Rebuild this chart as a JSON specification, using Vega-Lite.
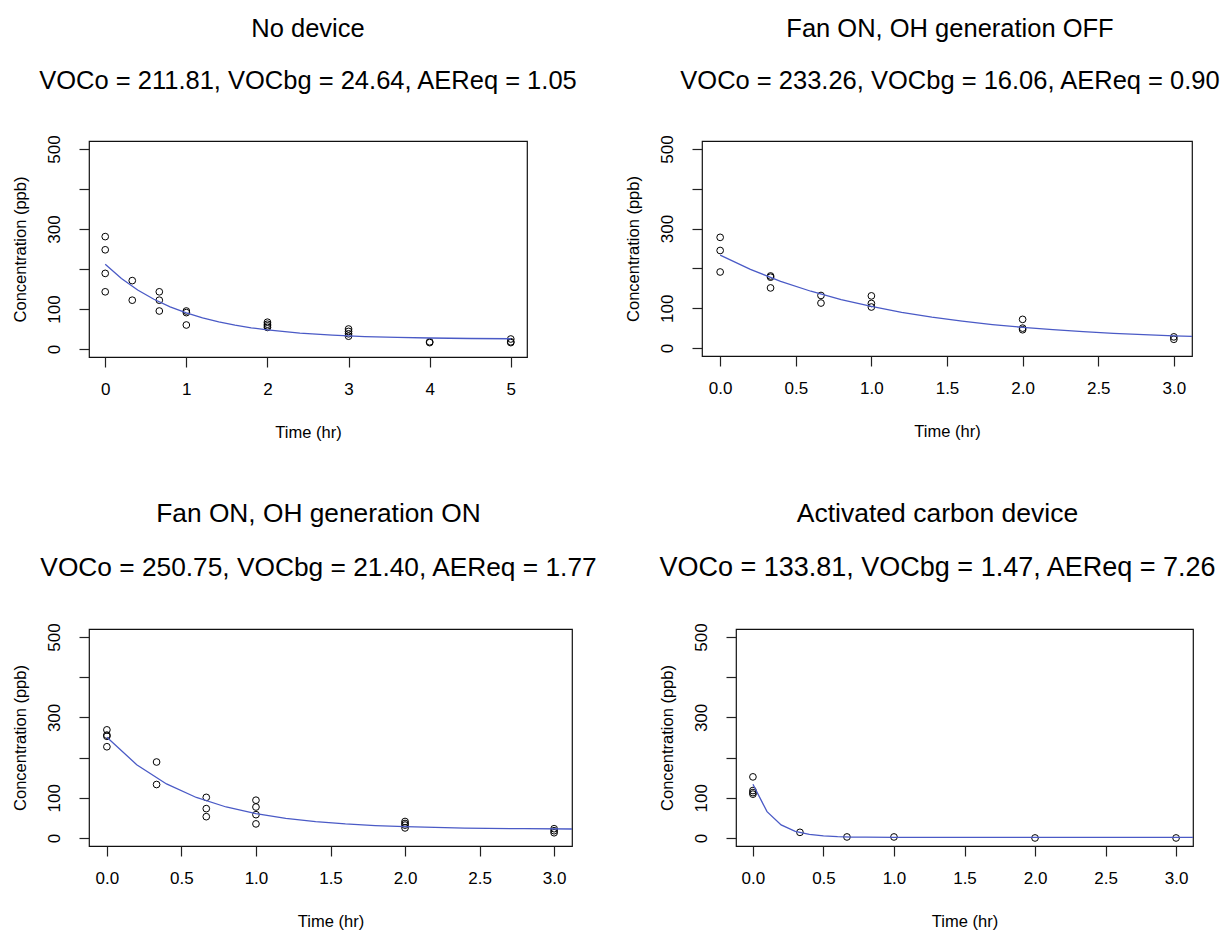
{
  "$schema": "https://vega.github.io/schema/vega-lite/v6.json",
  "background": "white",
  "padding": {"left": 11, "top": 16, "right": 0, "bottom": 0},
  "config": {
    "font": "Liberation Sans",
    "view": {"stroke": "#111", "strokeWidth": 1.2},
    "title": {"font": "Liberation Sans", "subtitleFont": "Liberation Sans", "fontSize": 25.5, "subtitleFontSize": 25.5, "fontWeight": "normal", "color": "#000", "subtitleColor": "#000", "anchor": "middle", "frame": "group", "offset": 40, "subtitlePadding": 27},
    "axis": {"domain": false, "grid": false, "ticks": true, "tickColor": "#222", "tickSize": 10, "tickWidth": 1.2, "labelFont": "Liberation Sans", "labelFontSize": 17, "labelColor": "#000", "titleFont": "Liberation Sans", "titleFontSize": 16.5, "titleFontWeight": "normal", "titleColor": "#000"},
    "axisX": {"labelPadding": 14, "titlePadding": 27},
    "axisY": {"labelAngle": 270, "labelAlign": "center", "labelBaseline": "alphabetic", "labelPadding": 20, "titlePadding": 17, "values": [0, 100, 200, 300, 400, 500], "labelExpr": "datum.value == 200 || datum.value == 400 ? '' : datum.label"}
  },
  "datasets": {
    "pts": [
      {"panel": "P1", "t": 0, "c": 281}, {"panel": "P1", "t": 0, "c": 248}, {"panel": "P1", "t": 0, "c": 189}, {"panel": "P1", "t": 0, "c": 143},
      {"panel": "P1", "t": 0.3333, "c": 171}, {"panel": "P1", "t": 0.3333, "c": 122},
      {"panel": "P1", "t": 0.6667, "c": 143}, {"panel": "P1", "t": 0.6667, "c": 122}, {"panel": "P1", "t": 0.6667, "c": 95},
      {"panel": "P1", "t": 1, "c": 95}, {"panel": "P1", "t": 1, "c": 91}, {"panel": "P1", "t": 1, "c": 60},
      {"panel": "P1", "t": 2, "c": 67}, {"panel": "P1", "t": 2, "c": 62}, {"panel": "P1", "t": 2, "c": 58}, {"panel": "P1", "t": 2, "c": 54},
      {"panel": "P1", "t": 3, "c": 50}, {"panel": "P1", "t": 3, "c": 44}, {"panel": "P1", "t": 3, "c": 38}, {"panel": "P1", "t": 3, "c": 32},
      {"panel": "P1", "t": 4, "c": 18}, {"panel": "P1", "t": 4, "c": 16},
      {"panel": "P1", "t": 5, "c": 25}, {"panel": "P1", "t": 5, "c": 18}, {"panel": "P1", "t": 5, "c": 16},
      {"panel": "P2", "t": 0, "c": 278}, {"panel": "P2", "t": 0, "c": 245}, {"panel": "P2", "t": 0, "c": 191},
      {"panel": "P2", "t": 0.3333, "c": 181}, {"panel": "P2", "t": 0.3333, "c": 178}, {"panel": "P2", "t": 0.3333, "c": 151},
      {"panel": "P2", "t": 0.6667, "c": 132}, {"panel": "P2", "t": 0.6667, "c": 113},
      {"panel": "P2", "t": 1, "c": 131}, {"panel": "P2", "t": 1, "c": 112}, {"panel": "P2", "t": 1, "c": 103},
      {"panel": "P2", "t": 2, "c": 72}, {"panel": "P2", "t": 2, "c": 50}, {"panel": "P2", "t": 2, "c": 46},
      {"panel": "P2", "t": 3, "c": 28}, {"panel": "P2", "t": 3, "c": 22},
      {"panel": "P3", "t": 0, "c": 269}, {"panel": "P3", "t": 0, "c": 256}, {"panel": "P3", "t": 0, "c": 253}, {"panel": "P3", "t": 0, "c": 227},
      {"panel": "P3", "t": 0.3333, "c": 189}, {"panel": "P3", "t": 0.3333, "c": 133},
      {"panel": "P3", "t": 0.6667, "c": 101}, {"panel": "P3", "t": 0.6667, "c": 73}, {"panel": "P3", "t": 0.6667, "c": 53},
      {"panel": "P3", "t": 1, "c": 94}, {"panel": "P3", "t": 1, "c": 77}, {"panel": "P3", "t": 1, "c": 58}, {"panel": "P3", "t": 1, "c": 35},
      {"panel": "P3", "t": 2, "c": 41}, {"panel": "P3", "t": 2, "c": 36}, {"panel": "P3", "t": 2, "c": 32}, {"panel": "P3", "t": 2, "c": 25},
      {"panel": "P3", "t": 3, "c": 23}, {"panel": "P3", "t": 3, "c": 18}, {"panel": "P3", "t": 3, "c": 13},
      {"panel": "P4", "t": 0, "c": 152}, {"panel": "P4", "t": 0, "c": 118}, {"panel": "P4", "t": 0, "c": 113}, {"panel": "P4", "t": 0, "c": 109},
      {"panel": "P4", "t": 0.3333, "c": 14},
      {"panel": "P4", "t": 0.6667, "c": 2.5},
      {"panel": "P4", "t": 1, "c": 2.5},
      {"panel": "P4", "t": 2, "c": 0},
      {"panel": "P4", "t": 3, "c": 0}
    ],
    "fit": [
      {"panel": "P1", "t": 0, "c": 211.81}, {"panel": "P1", "t": 0.2, "c": 176.36}, {"panel": "P1", "t": 0.4, "c": 147.62}, {"panel": "P1", "t": 0.6, "c": 124.33}, {"panel": "P1", "t": 0.8, "c": 105.44}, {"panel": "P1", "t": 1.0, "c": 90.14}, {"panel": "P1", "t": 1.2, "c": 77.74}, {"panel": "P1", "t": 1.4, "c": 67.67}, {"panel": "P1", "t": 1.6, "c": 59.53}, {"panel": "P1", "t": 1.8, "c": 52.92}, {"panel": "P1", "t": 2.0, "c": 47.57}, {"panel": "P1", "t": 2.4, "c": 39.71}, {"panel": "P1", "t": 2.8, "c": 34.54}, {"panel": "P1", "t": 3.2, "c": 31.14}, {"panel": "P1", "t": 3.6, "c": 28.91}, {"panel": "P1", "t": 4.0, "c": 27.45}, {"panel": "P1", "t": 4.5, "c": 26.3}, {"panel": "P1", "t": 5.0, "c": 25.62},
      {"panel": "P2", "t": 0, "c": 233.26}, {"panel": "P2", "t": 0.2, "c": 197.49}, {"panel": "P2", "t": 0.4, "c": 167.6}, {"panel": "P2", "t": 0.6, "c": 142.63}, {"panel": "P2", "t": 0.8, "c": 121.79}, {"panel": "P2", "t": 1.0, "c": 104.37}, {"panel": "P2", "t": 1.2, "c": 89.82}, {"panel": "P2", "t": 1.4, "c": 77.68}, {"panel": "P2", "t": 1.6, "c": 67.51}, {"panel": "P2", "t": 1.8, "c": 59.04}, {"panel": "P2", "t": 2.0, "c": 51.96}, {"panel": "P2", "t": 2.2, "c": 46.05}, {"panel": "P2", "t": 2.4, "c": 41.1}, {"panel": "P2", "t": 2.6, "c": 36.98}, {"panel": "P2", "t": 2.8, "c": 33.54}, {"panel": "P2", "t": 3.0, "c": 30.66}, {"panel": "P2", "t": 3.2, "c": 28.25},
      {"panel": "P3", "t": 0, "c": 250.75}, {"panel": "P3", "t": 0.2, "c": 182.38}, {"panel": "P3", "t": 0.4, "c": 134.38}, {"panel": "P3", "t": 0.6, "c": 100.71}, {"panel": "P3", "t": 0.8, "c": 77.06}, {"panel": "P3", "t": 1.0, "c": 60.46}, {"panel": "P3", "t": 1.2, "c": 48.81}, {"panel": "P3", "t": 1.4, "c": 40.64}, {"panel": "P3", "t": 1.6, "c": 34.91}, {"panel": "P3", "t": 1.8, "c": 30.87}, {"panel": "P3", "t": 2.0, "c": 28.05}, {"panel": "P3", "t": 2.4, "c": 24.68}, {"panel": "P3", "t": 2.8, "c": 23.01}, {"panel": "P3", "t": 3.2, "c": 22.2},
      {"panel": "P4", "t": 0, "c": 133.81}, {"panel": "P4", "t": 0.1, "c": 65.5}, {"panel": "P4", "t": 0.2, "c": 32.45}, {"panel": "P4", "t": 0.3, "c": 16.46}, {"panel": "P4", "t": 0.4, "c": 8.72}, {"panel": "P4", "t": 0.5, "c": 4.98}, {"panel": "P4", "t": 0.6, "c": 3.17}, {"panel": "P4", "t": 0.7, "c": 2.29}, {"panel": "P4", "t": 0.8, "c": 1.87}, {"panel": "P4", "t": 1.0, "c": 1.56}, {"panel": "P4", "t": 1.5, "c": 1.47}, {"panel": "P4", "t": 2.0, "c": 1.47}, {"panel": "P4", "t": 2.5, "c": 1.47}, {"panel": "P4", "t": 3.0, "c": 1.47}, {"panel": "P4", "t": 3.2, "c": 1.47}
    ]
  },
  "bounds": "flush",
  "spacing": 488,
  "vconcat": [
    {
      "bounds": "flush",
      "spacing": 175,
      "hconcat": [
        {
          "width": 438, "height": 216,
          "title": {"text": "No device", "subtitle": "VOCo = 211.81, VOCbg = 24.64, AEReq = 1.05"},
          "layer": [
            {"data": {"name": "pts"}, "transform": [{"filter": "datum.panel == 'P1'"}], "mark": {"type": "point", "shape": "circle", "filled": false, "stroke": "#000", "strokeWidth": 1, "size": 45, "opacity": 1},
             "encoding": {"x": {"field": "t", "type": "quantitative", "scale": {"domain": [-0.2, 5.2], "nice": false, "zero": false}, "axis": {"values": [0, 1, 2, 3, 4, 5], "format": "d", "title": "Time (hr)"}},
                          "y": {"field": "c", "type": "quantitative", "scale": {"domain": [-20, 520], "nice": false, "zero": false}, "axis": {"title": "Concentration (ppb)"}}}},
            {"data": {"name": "fit"}, "transform": [{"filter": "datum.panel == 'P1'"}], "mark": {"type": "line", "color": "#4a5ac6", "strokeWidth": 1.3, "clip": true},
             "encoding": {"x": {"field": "t", "type": "quantitative"}, "y": {"field": "c", "type": "quantitative"}}}
          ]
        },
        {
          "width": 490, "height": 215,
          "title": {"text": "Fan ON, OH generation OFF", "subtitle": "VOCo = 233.26, VOCbg = 16.06, AEReq = 0.90", "dx": 3},
          "layer": [
            {"data": {"name": "pts"}, "transform": [{"filter": "datum.panel == 'P2'"}], "mark": {"type": "point", "shape": "circle", "filled": false, "stroke": "#000", "strokeWidth": 1, "size": 45, "opacity": 1},
             "encoding": {"x": {"field": "t", "type": "quantitative", "scale": {"domain": [-0.12, 3.12], "nice": false, "zero": false}, "axis": {"values": [0, 0.5, 1, 1.5, 2, 2.5, 3], "format": ".1f", "title": "Time (hr)"}},
                          "y": {"field": "c", "type": "quantitative", "scale": {"domain": [-20, 520], "nice": false, "zero": false}, "axis": {"title": "Concentration (ppb)"}}}},
            {"data": {"name": "fit"}, "transform": [{"filter": "datum.panel == 'P2'"}], "mark": {"type": "line", "color": "#4a5ac6", "strokeWidth": 1.3, "clip": true},
             "encoding": {"x": {"field": "t", "type": "quantitative"}, "y": {"field": "c", "type": "quantitative"}}}
          ]
        }
      ]
    },
    {
      "bounds": "flush",
      "spacing": 164,
      "hconcat": [
        {
          "width": 483, "height": 217,
          "title": {"text": "Fan ON, OH generation ON", "subtitle": "VOCo = 250.75, VOCbg = 21.40, AEReq = 1.77", "fontSize": 26.3, "subtitleFontSize": 26.3, "dx": -12, "offset": 42},
          "layer": [
            {"data": {"name": "pts"}, "transform": [{"filter": "datum.panel == 'P3'"}], "mark": {"type": "point", "shape": "circle", "filled": false, "stroke": "#000", "strokeWidth": 1, "size": 45, "opacity": 1},
             "encoding": {"x": {"field": "t", "type": "quantitative", "scale": {"domain": [-0.12, 3.12], "nice": false, "zero": false}, "axis": {"values": [0, 0.5, 1, 1.5, 2, 2.5, 3], "format": ".1f", "title": "Time (hr)"}},
                          "y": {"field": "c", "type": "quantitative", "scale": {"domain": [-20, 520], "nice": false, "zero": false}, "axis": {"title": "Concentration (ppb)"}}}},
            {"data": {"name": "fit"}, "transform": [{"filter": "datum.panel == 'P3'"}], "mark": {"type": "line", "color": "#4a5ac6", "strokeWidth": 1.3, "clip": true},
             "encoding": {"x": {"field": "t", "type": "quantitative"}, "y": {"field": "c", "type": "quantitative"}}}
          ]
        },
        {
          "width": 457, "height": 217,
          "title": {"text": "Activated carbon device", "subtitle": "VOCo = 133.81, VOCbg = 1.47, AEReq = 7.26", "fontSize": 26.5, "subtitleFontSize": 27, "dx": -27, "offset": 42},
          "layer": [
            {"data": {"name": "pts"}, "transform": [{"filter": "datum.panel == 'P4'"}], "mark": {"type": "point", "shape": "circle", "filled": false, "stroke": "#000", "strokeWidth": 1, "size": 45, "opacity": 1},
             "encoding": {"x": {"field": "t", "type": "quantitative", "scale": {"domain": [-0.12, 3.12], "nice": false, "zero": false}, "axis": {"values": [0, 0.5, 1, 1.5, 2, 2.5, 3], "format": ".1f", "title": "Time (hr)"}},
                          "y": {"field": "c", "type": "quantitative", "scale": {"domain": [-20, 520], "nice": false, "zero": false}, "axis": {"title": "Concentration (ppb)"}}}},
            {"data": {"name": "fit"}, "transform": [{"filter": "datum.panel == 'P4'"}], "mark": {"type": "line", "color": "#4a5ac6", "strokeWidth": 1.3, "clip": true},
             "encoding": {"x": {"field": "t", "type": "quantitative"}, "y": {"field": "c", "type": "quantitative"}}}
          ]
        }
      ]
    }
  ]
}
